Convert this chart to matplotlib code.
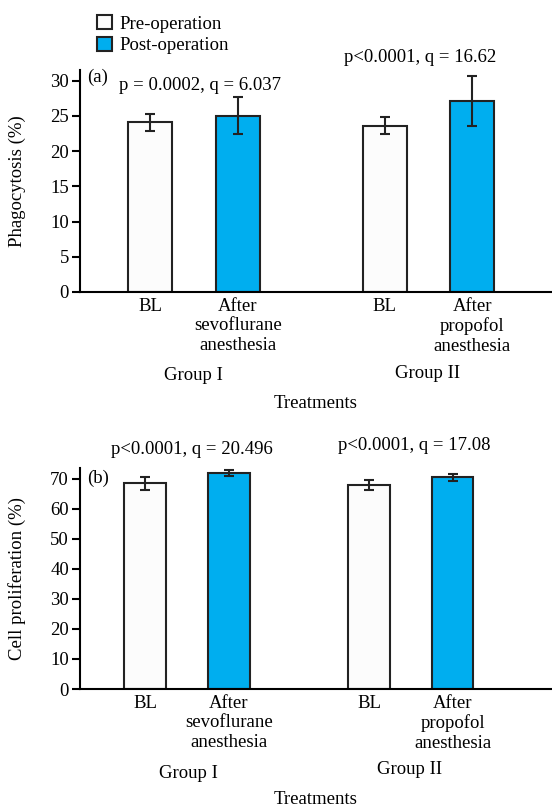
import matplotlib
matplotlib.use('Agg')
import matplotlib.pyplot as plt
from matplotlib.patches import Patch

plt.rcParams['font.family'] = ['Liberation Serif', 'DejaVu Serif']
plt.rcParams['font.size'] = 13.5

# data
labels = ['BL', 'After\nsevoflurane\nanesthesia', 'BL', 'After\npropofol\nanesthesia']
phago = [24.1, 25.0, 23.6, 27.1]
phago_err = [1.2, 2.6, 1.25, 3.6]
prolif = [68.4, 71.9, 67.9, 70.4]
prolif_err = [2.2, 1.0, 1.6, 1.1]
pos = [0, 1, 2.68, 3.68]
colors = ['#fcfcfc', '#00aeef', '#fcfcfc', '#00aeef']

W, H = 552, 807
fig = plt.figure(figsize=(W / 100, H / 100), dpi=100)


def px(x, y):
    return x / W, 1 - y / H


def panel(rect, vals, errs, ylim, yticks, xlim, ylabel, tag, tag_y):
    ax = fig.add_axes(rect)
    ax.bar(pos, vals, width=0.5, color=colors, edgecolor='#222222', linewidth=1.5)
    ax.errorbar(pos, vals, yerr=errs, fmt='none', ecolor='#222222', elinewidth=1.5,
                capsize=3.5, capthick=1.5)
    ax.set_ylim(*ylim)
    ax.set_xlim(*xlim)
    ax.set_yticks(yticks)
    ax.set_xticks(pos)
    ax.set_xticklabels(labels, linespacing=1.2)
    ax.tick_params(axis='x', length=0, pad=4)
    ax.tick_params(axis='y', length=6, width=1.5, direction='out', pad=2)
    for s in ['top', 'right']:
        ax.spines[s].set_visible(False)
    ax.spines['left'].set_linewidth(1.5)
    ax.spines['bottom'].set_linewidth(1.5)
    ax.set_ylabel(ylabel)
    ax.yaxis.set_label_coords(-0.115, 0.5)
    ax.text(0.015, tag_y, tag, ha='left', va='center', transform=ax.transAxes)
    return ax


ax1 = panel([80 / W, 1 - 292 / H, 472 / W, 222 / H], phago, phago_err,
            (0, 31.5), range(0, 31, 5), (-0.8, 4.59), 'Phagocytosis (%)', '(a)', 0.968)
ax2 = panel([80 / W, 1 - 689 / H, 472 / W, 221 / H], prolif, prolif_err,
            (0, 73.5), range(0, 71, 10), (-0.78, 4.87), 'Cell proliferation (%)', '(b)', 0.955)

# annotations
fig.text(*px(200, 85), 'p = 0.0002, q = 6.037', ha='center', va='center')
fig.text(*px(420, 58), 'p<0.0001, q = 16.62', ha='center', va='center')
fig.text(*px(192, 450), 'p<0.0001, q = 20.496', ha='center', va='center')
fig.text(*px(414, 446), 'p<0.0001, q = 17.08', ha='center', va='center')

fig.text(*px(193, 376), 'Group I', ha='center', va='center')
fig.text(*px(428, 373), 'Group II', ha='center', va='center')
fig.text(*px(316, 404), 'Treatments', ha='center', va='center')
fig.text(*px(188, 773), 'Group I', ha='center', va='center')
fig.text(*px(410, 770), 'Group II', ha='center', va='center')
fig.text(*px(316, 800), 'Treatments', ha='center', va='center')

handles = [Patch(facecolor='#fcfcfc', edgecolor='#222222', linewidth=1.5, label='Pre-operation'),
           Patch(facecolor='#00aeef', edgecolor='#222222', linewidth=1.5, label='Post-operation')]
fig.legend(handles=handles, loc='upper left', bbox_to_anchor=px(84, 2), frameon=False,
           handlelength=0.8, handleheight=0.8, handletextpad=0.4, labelspacing=0.2,
           borderpad=0.2)

fig.savefig('out.png', dpi=100)
